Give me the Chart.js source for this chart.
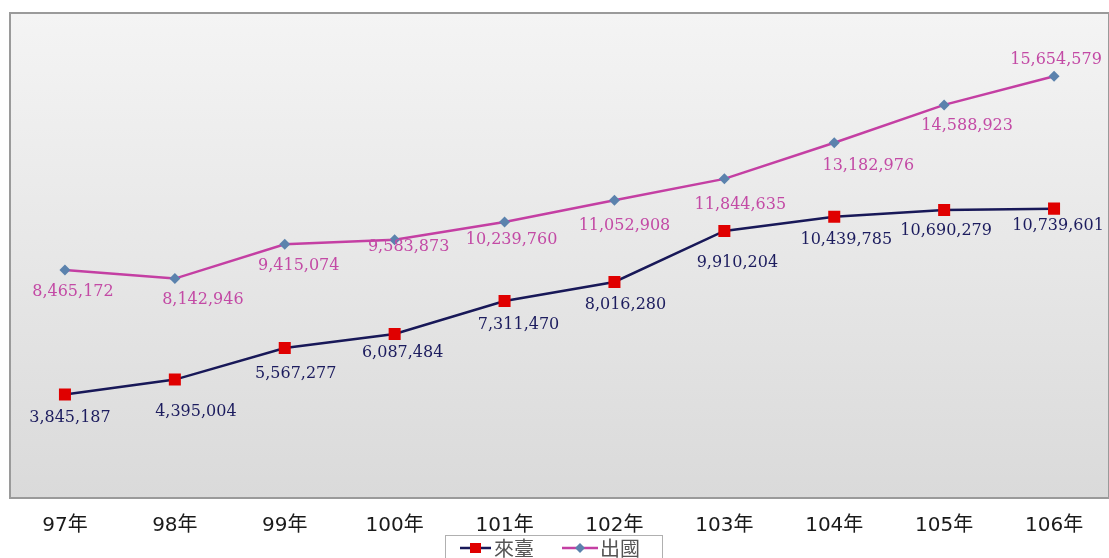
<!DOCTYPE html>
<html>
<head>
<meta charset="utf-8">
<script src="https://cdn.jsdelivr.net/npm/chart.js@4/dist/chart.umd.min.js"></script>
<style>
  html, body { margin: 0; padding: 0; background: #fff; overflow: hidden; }
  canvas { display: block; }
</style>
</head>
<body>
<canvas id="grafico" width="1109" height="558"></canvas>
<script>
// dados
const anos = ["97年", "98年", "99年", "100年", "101年", "102年", "103年", "104年", "105年", "106年"];
const laitai = [3845187, 4395004, 5567277, 6087484, 7311470, 8016280, 9910204, 10439785, 10690279, 10739601];
const chuguo = [8465172, 8142946, 9415074, 9583873, 10239760, 11052908, 11844635, 13182976, 14588923, 15654579];
const nomes = ["來臺", "出國"];

// deslocamento dos rótulos em relação ao ponto
const offLaitai = [[5, 23], [21, 32], [11, 26], [8, 19], [14, 24], [11, 23], [13, 32], [12, 23], [2, 21], [4, 17]];
const offChuguo = [[8, 22], [28, 21], [14, 22], [14, 7], [7, 18], [10, 26], [16, 26], [34, 23], [23, 21], [2, -16]];

function fmt(v) {
  return v.toString().replace(/\B(?=(\d{3})+(?!\d))/g, ",");
}

// fundo com gradiente e borda da área do gráfico
const fundo = {
  id: "fundo",
  beforeDraw(chart) {
    const { ctx, chartArea: a } = chart;
    const g = ctx.createLinearGradient(0, a.top, 0, a.bottom);
    g.addColorStop(0, "#f4f4f4");
    g.addColorStop(1, "#dadada");
    ctx.save();
    ctx.fillStyle = g;
    ctx.fillRect(a.left, a.top, a.right - a.left, a.bottom - a.top);
    ctx.strokeStyle = "#9a9a9a";
    ctx.lineWidth = 2;
    ctx.strokeRect(a.left, a.top, a.right - a.left, a.bottom - a.top);
    ctx.restore();
  }
};

// rótulos de valores
const rotulos = {
  id: "rotulos",
  afterDatasetsDraw(chart) {
    const ctx = chart.ctx;
    const cores = ["#1c1c5e", "#c34aa5"];
    const offs = [offLaitai, offChuguo];
    ctx.save();
    ctx.font = "16px 'DejaVu Serif', serif";
    ctx.textAlign = "center";
    ctx.textBaseline = "middle";
    chart.data.datasets.forEach((ds, i) => {
      const meta = chart.getDatasetMeta(i);
      ctx.fillStyle = cores[i];
      meta.data.forEach((p, j) => {
        ctx.fillText(fmt(ds.data[j]), p.x + offs[i][j][0], p.y + offs[i][j][1]);
      });
    });
    ctx.restore();
  }
};

// legenda desenhada à mão (com caixa)
const legenda = {
  id: "legenda",
  afterDraw(chart) {
    const ctx = chart.ctx;
    const y = 548;
    ctx.save();
    ctx.fillStyle = "#fff";
    ctx.fillRect(445, 535, 217, 24);
    ctx.strokeStyle = "#b0b0b0";
    ctx.lineWidth = 1;
    ctx.strokeRect(445.5, 535.5, 217, 24);

    // 來臺
    ctx.strokeStyle = "#181858";
    ctx.lineWidth = 2.5;
    ctx.beginPath(); ctx.moveTo(460, y); ctx.lineTo(491, y); ctx.stroke();
    ctx.fillStyle = "#e00000";
    ctx.fillRect(470, y - 5, 11, 10);
    // 出國
    ctx.strokeStyle = "#c43fa3";
    ctx.beginPath(); ctx.moveTo(562, y); ctx.lineTo(598, y); ctx.stroke();
    ctx.fillStyle = "#5b82ad";
    ctx.beginPath();
    ctx.moveTo(580, y - 5); ctx.lineTo(585, y); ctx.lineTo(580, y + 5); ctx.lineTo(575, y);
    ctx.closePath(); ctx.fill();

    ctx.font = "20px 'Noto Sans CJK TC', sans-serif";
    ctx.fillStyle = "#555";
    ctx.textBaseline = "middle";
    ctx.fillText(nomes[0], 494, y);
    ctx.fillText(nomes[1], 600, y);
    ctx.restore();
  }
};

function criarGrafico() {
  const ctx = document.getElementById("grafico").getContext("2d");
  new Chart(ctx, {
    type: "line",
    data: {
      labels: anos,
      datasets: [
        {
          label: nomes[0],
          data: laitai,
          borderColor: "#181858",
          borderWidth: 2.5,
          pointStyle: "rect",
          pointRadius: 8.5,
          pointBackgroundColor: "#e00000",
          pointBorderColor: "#e00000",
          pointBorderWidth: 0,
          tension: 0
        },
        {
          label: nomes[1],
          data: chuguo,
          borderColor: "#c43fa3",
          borderWidth: 2.5,
          pointStyle: "rectRot",
          pointRadius: 5.5,
          pointBackgroundColor: "#5b82ad",
          pointBorderColor: "#5b82ad",
          pointBorderWidth: 0,
          tension: 0
        }
      ]
    },
    options: {
      responsive: false,
      animation: false,
      layout: { autoPadding: false, padding: { left: 10, top: 13, right: 0, bottom: 0 } },
      plugins: {
        legend: { display: false },
        tooltip: { enabled: false }
      },
      scales: {
        x: {
          offset: true,
          grid: { display: false, drawTicks: false },
          border: { display: false },
          ticks: {
            autoSkip: false,
            maxRotation: 0,
            padding: 16,
            color: "#1a1a1a",
            font: { size: 20, family: "'DejaVu Sans', 'Noto Sans CJK TC', sans-serif" }
          },
          afterFit(s) {
            s.height = 60;
            s.paddingLeft = 0;
            s.paddingRight = 0;
          }
        },
        y: {
          display: false,
          min: 0,
          max: 18000000
        }
      }
    },
    plugins: [fundo, rotulos, legenda]
  });
}

criarGrafico();
</script>
</body>
</html>
